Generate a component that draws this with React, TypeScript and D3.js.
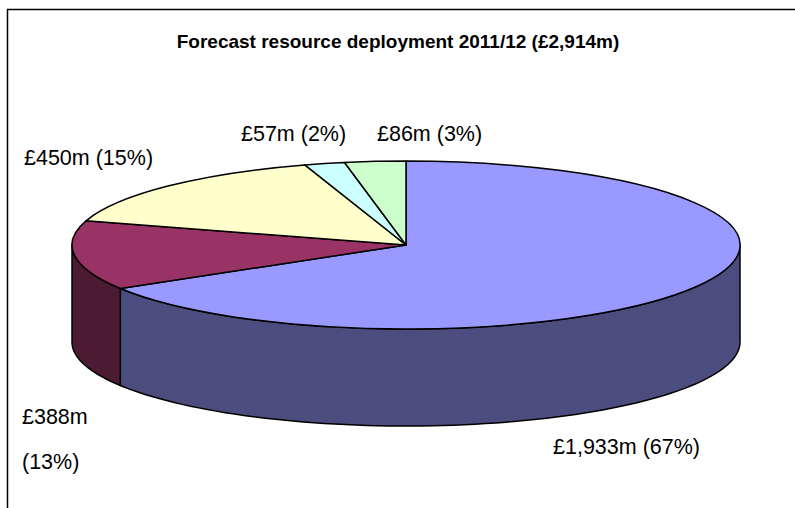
import React from "react";
import * as d3 from "d3";

const categories = ["A", "B", "C", "D", "E"];
const values = [1933, 388, 450, 57, 86];
const valueLabels = ["£1,933m", "£388m", "£450m", "£57m", "£86m"];
const percentLabels = ["(67%)", "(13%)", "(15%)", "(2%)", "(3%)"];
const topColors = ["#9999FF", "#993366", "#FFFFCC", "#CCFFFF", "#CCFFCC"];
const sideColors = ["#4C4D7F", "#4D1A33", "#80806A", "#6A8080", "#6A806A"];
const title = "Forecast resource deployment 2011/12 (£2,914m)";

const W = 795;
const H = 508;
const cx = 406;
const cy = 245;
const rx = 334;
const ry = 84;
const depth = 97;

// label layout (text anchors), one line or two lines
const labelLayout = [
  { x: 553, y: 454, split: false },
  { x: 22, y: 424, split: true, gap: 45 },
  { x: 24, y: 165, split: false },
  { x: 241, y: 141, split: false },
  { x: 377, y: 141, split: false },
];

export default function App() {
  const pie = d3
    .pie<number>()
    .sort(null)
    .startAngle(0)
    .endAngle(2 * Math.PI)
    .value((d) => d);
  const arcs = pie(values);

  const arcGen = d3.arc<any>().innerRadius(0).outerRadius(1);

  const px = (a: number) => cx + rx * Math.sin(a);
  const py = (a: number, dz = 0) => cy - ry * Math.cos(a) + dz;

  const line = d3
    .line<[number, number]>()
    .x((d) => d[0])
    .y((d) => d[1]);

  const sides = arcs
    .map((a, i) => {
      const s = Math.max(a.startAngle, Math.PI / 2);
      const e = Math.min(a.endAngle, (3 * Math.PI) / 2);
      if (e <= s) return null;
      const n = 80;
      const topPts: [number, number][] = d3
        .range(n + 1)
        .map((k) => s + ((e - s) * k) / n)
        .map((t) => [px(t), py(t)] as [number, number]);
      const botPts = topPts
        .map((p) => [p[0], p[1] + depth] as [number, number])
        .reverse();
      return { i, d: line([...topPts, ...botPts])! + "Z" };
    })
    .filter(Boolean) as { i: number; d: string }[];

  return (
    <svg width={W} height={H} style={{ display: "block", position: "absolute", left: 0, top: 0 }}>
      <rect x={0} y={0} width={W} height={H} fill="#fff" />
      <rect x={7.5} y={9.5} width={W + 20} height={H + 20} fill="none" stroke="#000" strokeWidth={1.5} />
      <text
        x={398}
        y={48}
        textAnchor="middle"
        fontFamily="'Liberation Sans', Arial, sans-serif"
        fontWeight="bold"
        fontSize={19}
        fill="#000"
      >
        {title}
      </text>
      {sides.map((s) => (
        <path
          key={"side" + s.i}
          d={s.d}
          fill={sideColors[s.i]}
          stroke="#000"
          strokeWidth={1.5}
          strokeLinejoin="round"
        />
      ))}
      <g transform={`translate(${cx},${cy}) scale(${rx},${ry})`}>
        {arcs.map((a, i) => (
          <path
            key={"top" + i}
            d={arcGen(a)!}
            fill={topColors[i]}
            stroke="#000"
            strokeWidth={1.5}
            vectorEffect="non-scaling-stroke"
            strokeLinejoin="round"
          />
        ))}
      </g>
      {arcs.map((a, i) => {
        const L = labelLayout[i];
        const common = {
          fontFamily: "'Liberation Sans', Arial, sans-serif",
          fontSize: 21.5,
          fill: "#000",
        };
        if (L.split) {
          return (
            <g key={"lab" + i}>
              <text x={L.x} y={L.y} {...common}>
                {valueLabels[i]}
              </text>
              <text x={L.x} y={L.y + (L.gap || 0)} {...common}>
                {percentLabels[i]}
              </text>
            </g>
          );
        }
        return (
          <text key={"lab" + i} x={L.x} y={L.y} {...common}>
            {valueLabels[i] + " " + percentLabels[i]}
          </text>
        );
      })}
    </svg>
  );
}
